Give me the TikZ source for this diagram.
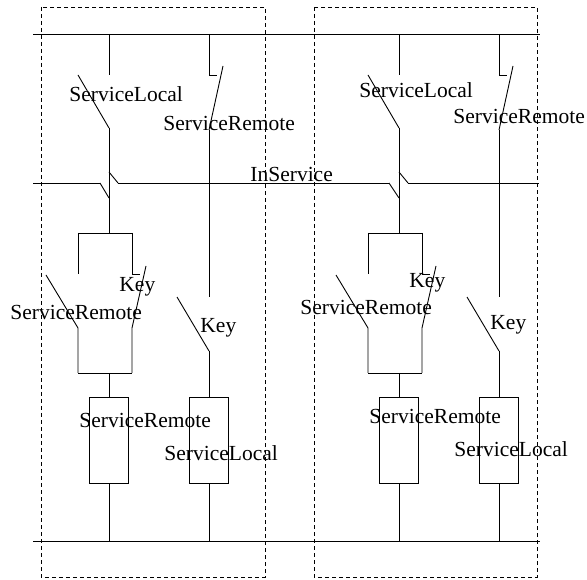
\documentclass[tikz,border=0pt]{standalone}
\usepackage{fontspec}
\setmainfont{Liberation Serif}
\begin{document}
\begin{tikzpicture}[x=1pt,y=-1pt,line width=0.9pt,
  wire/.style={draw=black},
  frame/.style={draw=black,line width=0.8pt,dash pattern=on 4pt off 3pt},
  relay/.style={draw=black,rectangle,minimum width=39pt,minimum height=86pt,inner sep=0pt},
  lbl/.style={anchor=base west,inner sep=0pt,font=\fontsize{21.5}{24}\selectfont}]
\useasboundingbox (0,0) rectangle (587,580);
% frames
\draw[frame] (41,7) rectangle (265,577);
\draw[frame] (314,7) rectangle (537,577);
% buses
\coordinate (busTL) at (33,34); \coordinate (busTR) at (540,34);
\coordinate (busBL) at (33,541); \coordinate (busBR) at (540,541);
\draw[wire] (busTL) -- (busTR);
\draw[wire] (busBL) -- (busBR);
% InService line
\coordinate (isA) at (33,183);
\coordinate (isB1) at (100,183); \coordinate (isC1) at (118,183);
\coordinate (isB2) at (389,183); \coordinate (isC2) at (408,183);
\coordinate (isD) at (539,183);
\draw[wire] (isA) -- (isB1);
\draw[wire] (isC1) -- (isB2);
\draw[wire] (isC2) -- (isD);
\node[lbl] (lblIS) at (250,182) {InService};

\foreach \u/\dx/\sly/\sry/\kuy/\sroy/\kly/\bry/\bly in
  {L/0/102/131/292/320/333/428/460, R/290/98/124/288/315/330/423/456}{
  \begin{scope}[xshift=\dx]
  % ServiceLocal contact (main column)
  \coordinate (\u mTop) at (109,34);
  \coordinate (\u mA) at (109,75);
  \coordinate (\u mBl) at (78,75);
  \coordinate (\u mB) at (109,128);
  \coordinate (\u mJ) at (109,172);
  \coordinate (\u mK) at (109,198);
  \coordinate (\u mBr) at (109,233);
  \draw[wire] (\u mTop) -- (\u mA);
  \draw[wire] (\u mBl) -- (\u mB);
  \draw[wire] (\u mB) -- (\u mBr);
  \node[lbl] at (69-\dx+\dx,\sly) {ServiceLocal};
  % ServiceRemote NC contact (second column)
  \coordinate (\u sTop) at (209,34);
  \coordinate (\u sA) at (209,75);
  \coordinate (\u sStub) at (217,75);
  \coordinate (\u sBt) at (223,66);
  \coordinate (\u sB) at (209,130);
  \coordinate (\u sC) at (209,297);
  \coordinate (\u sKb) at (177,297);
  \coordinate (\u sD) at (209,351);
  \draw[wire] (\u sTop) -- (\u sA) -- (\u sStub);
  \draw[wire] (\u sBt) -- (\u sB);
  \draw[wire] (\u sB) -- (\u sC);
  \draw[wire] (\u sKb) -- (\u sD);
  \node[lbl] at (163,\sry) {ServiceRemote};
  \node[lbl] at (200,\kly) {Key};
  % parallel contacts
  \coordinate (\u pL) at (78,233); \coordinate (\u pR) at (132,233);
  \coordinate (\u pLa) at (78,274); \coordinate (\u pLb) at (46,275);
  \coordinate (\u pLc) at (78,328); \coordinate (\u pLd) at (78,373);
  \coordinate (\u pRa) at (132,274); \coordinate (\u pRs) at (140,274);
  \coordinate (\u pRb) at (146,266); \coordinate (\u pRc) at (132,328);
  \coordinate (\u pRd) at (132,373); \coordinate (\u pM) at (109,373);
  \draw[wire] (\u pL) -- (\u pR);
  \draw[wire] (\u pL) -- (\u pLa);
  \draw[wire] (\u pLb) -- (\u pLc) -- (\u pLd);
  \draw[wire] (\u pR) -- (\u pRa) -- (\u pRs);
  \draw[wire] (\u pRb) -- (\u pRc) -- (\u pRd);
  \draw[wire] (\u pLd) -- (\u pRd);
  \node[lbl] at (119,\kuy) {Key};
  \node[lbl] at (10,\sroy) {ServiceRemote};
  % relays
  \node[relay] (\u rm) at (109,440) {};
  \node[relay] (\u rs) at (209,440) {};
  \coordinate (\u mBot) at (109,541);
  \coordinate (\u sBot) at (209,541);
  \draw[wire] (\u pM) -- (\u rm.north);
  \draw[wire] (\u rm.south) -- (\u mBot);
  \draw[wire] (\u sD) -- (\u rs.north);
  \draw[wire] (\u rs.south) -- (\u sBot);
  \node[lbl] at (79,\bry) {ServiceRemote};
  \node[lbl] at (164,\bly) {ServiceLocal};
  \end{scope}
}
% InService jogs at the main columns
\draw[wire] (isB1) -- (LmK);
\draw[wire] (LmJ) -- (isC1);
\draw[wire] (isB2) -- (RmK);
\draw[wire] (RmJ) -- (isC2);
\end{tikzpicture}
\end{document}
